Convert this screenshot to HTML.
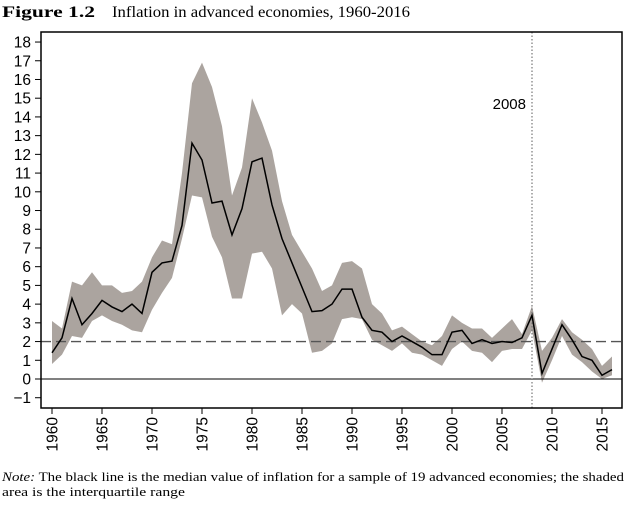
<!DOCTYPE html>
<html><head><meta charset="utf-8"><style>
body{margin:0;background:#fff;width:644px;height:512px;overflow:hidden}
svg{display:block}
</style></head><body>
<svg width="644" height="512" xmlns="http://www.w3.org/2000/svg">
<text x="2" y="17" font-family="Liberation Serif, serif" font-size="16"><tspan font-weight="bold" textLength="93" lengthAdjust="spacingAndGlyphs">Figure 1.2</tspan><tspan x="112" textLength="298" lengthAdjust="spacingAndGlyphs">Inflation in advanced economies, 1960-2016</tspan></text>
<g id="plot"></g>
<text x="2" y="481" font-family="Liberation Serif, serif" font-size="12.5" textLength="622" lengthAdjust="spacingAndGlyphs"><tspan font-style="italic">Note:</tspan> The black line is the median value of inflation for a sample of 19 advanced economies; the shaded</text>
<text x="2" y="496" font-family="Liberation Serif, serif" font-size="12.5" textLength="183" lengthAdjust="spacingAndGlyphs">area is the interquartile range</text>
</svg>
<script>
const years=[];for(let y=1960;y<=2016;y++)years.push(y);
const median=[1.4,2.2,4.3,2.9,3.5,4.2,3.85,3.6,4.0,3.5,5.7,6.2,6.3,8.2,12.6,11.7,9.4,9.5,7.7,9.1,11.6,11.8,9.3,7.5,6.2,4.9,3.6,3.65,4.0,4.8,4.8,3.3,2.6,2.5,2.0,2.3,2.0,1.7,1.3,1.3,2.5,2.6,1.9,2.1,1.9,2.0,1.95,2.2,3.4,0.3,1.6,2.9,2.1,1.2,1.0,0.2,0.5];
const upper=[3.1,2.7,5.2,5.0,5.7,5.0,5.0,4.6,4.7,5.2,6.5,7.4,7.2,11,15.8,16.9,15.6,13.5,9.8,11.3,15,13.7,12.2,9.5,7.7,6.8,5.9,4.7,5.0,6.2,6.3,5.9,4.0,3.5,2.6,2.8,2.4,2.0,1.8,2.3,3.4,3.0,2.7,2.7,2.2,2.7,3.2,2.4,3.9,1.5,2.2,3.2,2.5,2.1,1.6,0.7,1.2];
const lower=[0.8,1.3,2.3,2.2,3.1,3.4,3.1,2.9,2.6,2.5,3.7,4.6,5.4,7.5,9.8,9.7,7.6,6.5,4.3,4.3,6.7,6.8,5.9,3.4,4.0,3.5,1.4,1.5,1.9,3.2,3.3,3.2,2.1,1.8,1.5,1.9,1.4,1.3,1.0,0.7,1.6,2.0,1.5,1.4,0.9,1.5,1.6,1.6,2.6,-0.2,1.0,2.3,1.3,0.9,0.4,0.0,0.2];
const yTicks=[-1,0,1,2,3,4,5,6,7,8,9,10,11,12,13,14,15,16,17,18];
const xTicks=[1960,1965,1970,1975,1980,1985,1990,1995,2000,2005,2010,2015];
const target=2, eventYear=2008;
const X=y=>52+(y-1960)*10, Y=v=>379-v*18.72;
const NS="http://www.w3.org/2000/svg", g=document.getElementById('plot');
function mk(t,a){const e=document.createElementNS(NS,t);for(const k in a)e.setAttribute(k,a[k]);g.appendChild(e);return e;}
let pts=years.map((y,i)=>X(y)+','+Y(upper[i])).concat(years.map((y,i)=>X(y)+','+Y(lower[i])).reverse());
let e=mk('polygon',{points:pts.join(' '),fill:'#aba49f'});


e=mk('line',{x1:41,x2:622,y1:Y(0),y2:Y(0),stroke:'#000','stroke-width':1});


e=mk('line',{x1:41,x2:622,y1:Y(target),y2:Y(target),stroke:'#555','stroke-width':1.3,'stroke-dasharray':'10,5'});


e=mk('line',{x1:X(eventYear),x2:X(eventYear),y1:32,y2:408,stroke:'#777','stroke-width':1.2,'stroke-dasharray':'1.5,2'});


e=mk('text',{x:X(eventYear)-6,y:109,'text-anchor':'end','font-family':'Liberation Sans, sans-serif','font-size':15});
e.textContent='2008';


e=mk('polyline',{points:years.map((y,i)=>X(y)+','+Y(median[i])).join(' '),fill:'none',stroke:'#000','stroke-width':1.5});


e=mk('rect',{x:41,y:32,width:581,height:376,fill:'none',stroke:'#000','stroke-width':1.5});


yTicks.forEach(v=>{
 let t=mk('line',{x1:35,x2:41,y1:Y(v),y2:Y(v),stroke:'#000'});
 
 
 let l=mk('text',{x:31,y:Y(v)+5.5,'text-anchor':'end','font-family':'Liberation Sans, sans-serif','font-size':15.5});
 l.textContent=v<0?'\u2212'+(-v):String(v);
 
 
});
xTicks.forEach(v=>{
 let t=mk('line',{x1:X(v),x2:X(v),y1:408,y2:414,stroke:'#000'});
 
 
 let l=mk('text',{x:0,y:0,'text-anchor':'end','font-family':'Liberation Sans, sans-serif','font-size':15.5,transform:`translate(${X(v)+5.5},417) rotate(-90)`});
 l.textContent=String(v);
 
 
});
</script>
</body></html>
